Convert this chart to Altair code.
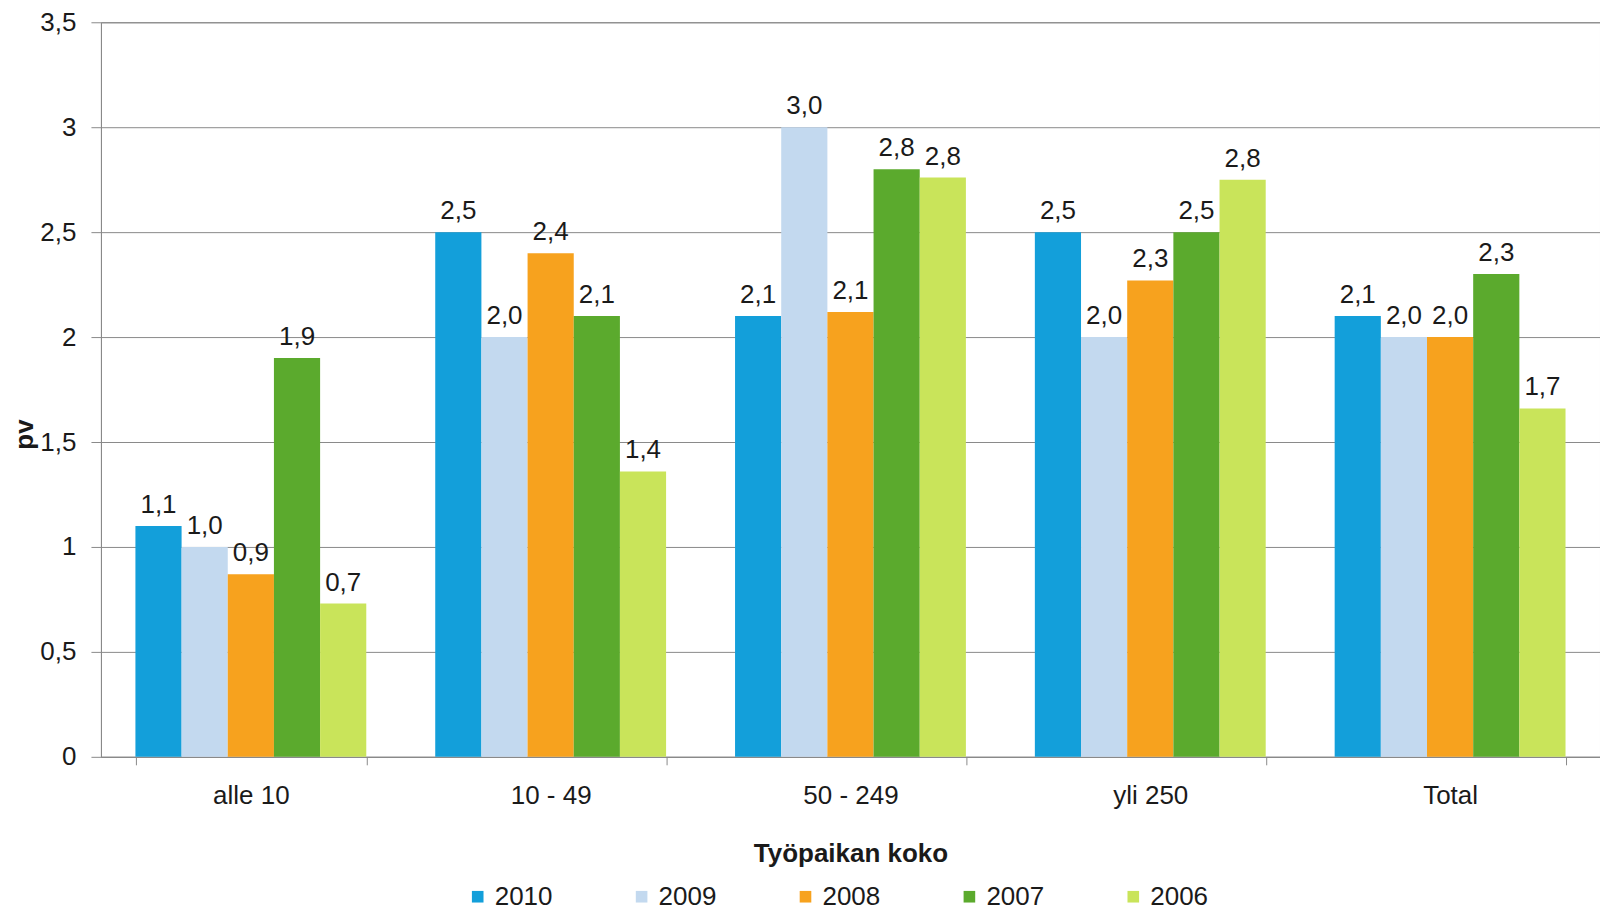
import altair as alt
import pandas as pd

categories = ["alle 10", "10 - 49", "50 - 249", "yli 250", "Total"]
years = ["2010", "2009", "2008", "2007", "2006"]
v2010 = [1.10, 2.50, 2.10, 2.50, 2.10]
v2009 = [1.00, 2.00, 3.00, 2.00, 2.00]
v2008 = [0.87, 2.40, 2.12, 2.27, 2.00]
v2007 = [1.90, 2.10, 2.80, 2.50, 2.30]
v2006 = [0.73, 1.36, 2.76, 2.75, 1.66]
colors = ["#139FDA", "#C3D9EF", "#F7A21E", "#5BAA2D", "#C9E45A"]
y_ticks = [0, 0.5, 1, 1.5, 2, 2.5, 3, 3.5]

series = {"2010": v2010, "2009": v2009, "2008": v2008, "2007": v2007, "2006": v2006}
rows = []
for yr in years:
    for cat, val in zip(categories, series[yr]):
        rows.append({"koko": cat, "vuosi": yr, "pv": val})
df = pd.DataFrame(rows)

FONT = "Liberation Sans"
GRID = "#8a8a8a"
TXT = "#1a1a1a"
FS = 26

x_enc = alt.X(
    "koko:N",
    sort=categories,
    scale=alt.Scale(paddingInner=0.23, paddingOuter=0.115),
    axis=alt.Axis(
        title="Työpaikan koko",
        labelAngle=0,
        tickBand="extent",
        tickSize=8,
        tickColor=GRID,
        domainColor=GRID,
        labelFontSize=FS,
        labelPadding=18,
        labelColor=TXT,
        titleFontSize=FS,
        titleFontWeight="bold",
        titlePadding=32,
        titleColor=TXT,
        grid=False,
    ),
)
xoff_enc = alt.XOffset("vuosi:N", sort=years, scale=alt.Scale(paddingInner=0, paddingOuter=0))
y_enc = alt.Y(
    "pv:Q",
    scale=alt.Scale(domain=[0, 3.5], nice=False),
    axis=alt.Axis(
        title="pv",
        values=y_ticks,
        labelExpr="replace(toString(datum.value), '.', ',')",
        tickSize=10,
        tickColor=GRID,
        domainColor=GRID,
        gridColor=GRID,
        gridOpacity=1,
        labelFontSize=FS,
        labelPadding=15,
        labelColor=TXT,
        titleFontSize=FS,
        titleFontWeight="bold",
        titlePadding=2,
        titleColor=TXT,
        titleY=412,
    ),
)

base = alt.Chart(df).encode(x=x_enc, xOffset=xoff_enc, y=y_enc)

bars = base.mark_bar().encode(
    color=alt.Color(
        "vuosi:N",
        sort=years,
        scale=alt.Scale(domain=years, range=colors),
        legend=alt.Legend(
            title=None,
            orient="none",
            legendX=364,
            legendY=862,
            direction="horizontal",
            symbolType="square",
            symbolSize=135,
            symbolStrokeWidth=0,
            labelFontSize=FS,
            labelColor=TXT,
            columnPadding=76,
            padding=0,
        ),
    )
)

labels = base.transform_calculate(
    lbl="replace(format(datum.pv, '.1f'), '.', ',')"
).mark_text(baseline="alphabetic", dy=-13, fontSize=FS, font=FONT, color=TXT).encode(
    text="lbl:N"
)

chart = (
    alt.layer(bars, labels)
    .properties(width=1500, height=735, padding={"left": 3, "top": 1, "right": 0, "bottom": 0})
    .configure(font=FONT)
    .configure_view(stroke=GRID, strokeWidth=1)
    .configure_axis(labelFont=FONT, titleFont=FONT)
    .configure_legend(labelFont=FONT)
)

chart.save("out.html", embed_options={"renderer": "svg", "actions": False})
